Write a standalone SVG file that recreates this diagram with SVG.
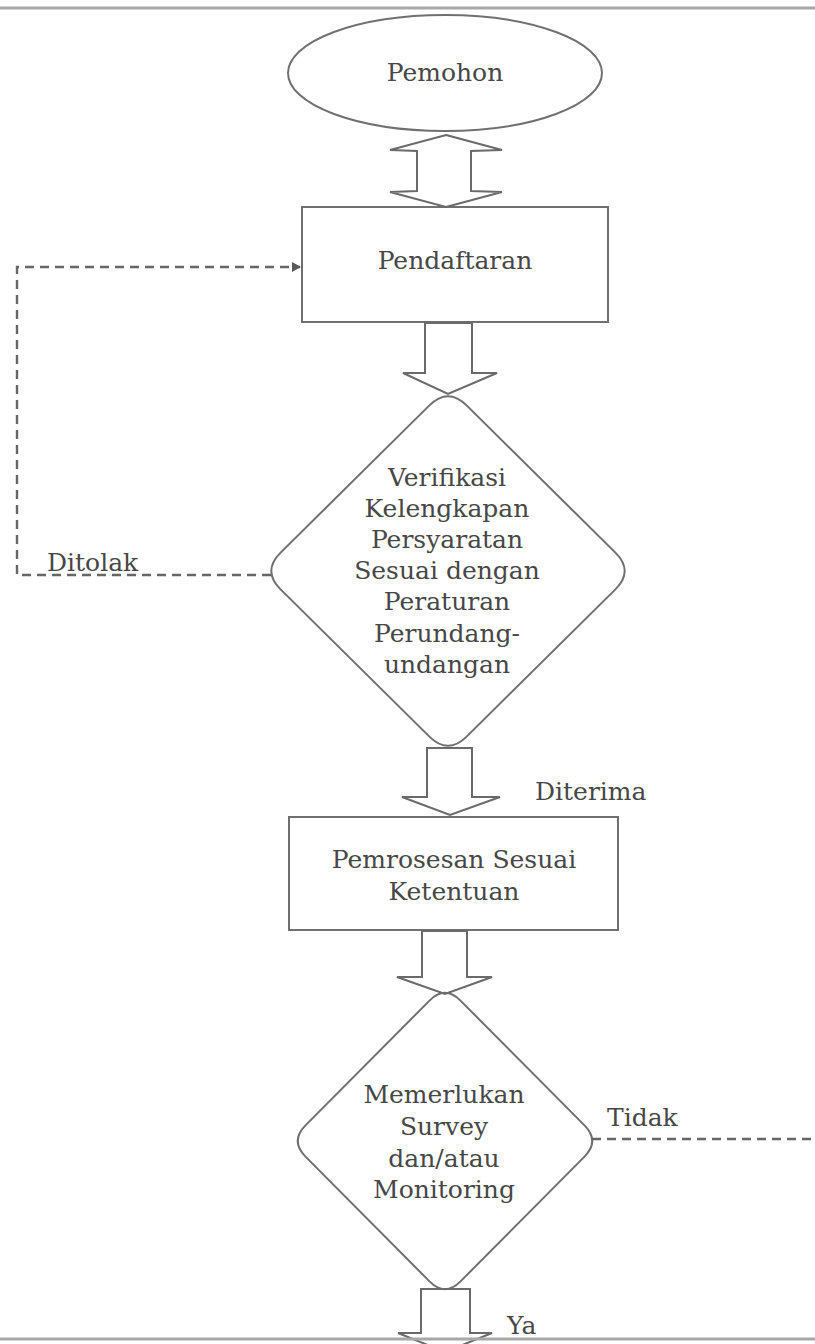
<svg xmlns="http://www.w3.org/2000/svg" width="815" height="1344" viewBox="0 0 815 1344">
<style>
.shape{fill:#fff;stroke:#707070;stroke-width:2}
.blk{fill:none;stroke:#6a6a6a;stroke-width:2;stroke-linejoin:miter}
.dash{fill:none;stroke:#666;stroke-width:2.4;stroke-dasharray:9 6}
.t{font-family:"DejaVu Serif","Liberation Serif",serif;font-size:25px;fill:#474747;text-anchor:middle}
.lbl{font-family:"DejaVu Serif","Liberation Serif",serif;font-size:25px;fill:#474747}
.border{stroke:#a8a8a8;stroke-width:3}
</style>
<defs>
<marker id="ah" markerWidth="10" markerHeight="10" refX="8" refY="5" orient="auto" markerUnits="userSpaceOnUse">
<path d="M0,0 L9,5 L0,10 Z" fill="#5a5a5a"/>
</marker>
</defs>
<rect x="0" y="0" width="815" height="1344" fill="#fff"/>

<g id="node-pemohon">
<ellipse class="shape" cx="445" cy="73" rx="157" ry="58"/>
<text class="t" x="445" y="81">Pemohon</text>
</g>

<g id="node-pendaftaran">
<rect class="shape" x="302" y="207" width="306" height="115"/>
<text class="t" x="455" y="269">Pendaftaran</text>
</g>

<g id="node-verifikasi">
<path class="shape" d="M466.6,405.4 L615.4,552.6 Q634,571 615.4,589.4 L466.6,736.6 Q448,755 429.4,736.6 L280.6,589.4 Q262,571 280.6,552.6 L429.4,405.4 Q448,387 466.6,405.4 Z"/>
<text class="t" x="447" y="486">Verifikasi</text>
<text class="t" x="447" y="517">Kelengkapan</text>
<text class="t" x="447" y="548">Persyaratan</text>
<text class="t" x="447" y="579">Sesuai dengan</text>
<text class="t" x="447" y="610">Peraturan</text>
<text class="t" x="447" y="642">Perundang-</text>
<text class="t" x="447" y="673">undangan</text>
</g>

<g id="node-pemrosesan">
<rect class="shape" x="289" y="817" width="329" height="113"/>
<text class="t" x="454" y="868">Pemrosesan Sesuai</text>
<text class="t" x="454" y="900">Ketentuan</text>
</g>

<g id="node-survey">
<path class="shape" d="M460.5,1000.6 L584.5,1125.4 Q600,1141 584.5,1156.6 L460.5,1281.4 Q445,1297 429.5,1281.4 L305.5,1156.6 Q290,1141 305.5,1125.4 L429.5,1000.6 Q445,985 460.5,1000.6 Z"/>
<text class="t" x="444" y="1103">Memerlukan</text>
<text class="t" x="444" y="1135">Survey</text>
<text class="t" x="444" y="1167">dan/atau</text>
<text class="t" x="444" y="1198">Monitoring</text>
</g>

<g id="connectors">
<path class="blk" d="M446,135 L502,150 L471,151 L471,191 L502,192 L446,207 L390,192 L417,191 L417,151 L390,150 Z"/>
<path class="blk" d="M425,323 L472,323 L472,373 L497,373 L448,394 L403,373 L425,373 Z"/>
<path class="blk" d="M427,748 L472,748 L472,797 L500,797 L450,815 L402,797 L427,797 Z"/>
<path class="blk" d="M422,931 L467,931 L467,977 L492,977 L445,994 L397,977 L422,977 Z"/>
<path class="blk" d="M421,1289 L470,1289 L470,1333 L492,1333 L445,1352 L398,1333 L421,1333 Z"/>
<path class="dash" d="M271,575 L17,575 L17,267 L300,267" marker-end="url(#ah)"/>
<path class="dash" d="M592,1139 L815,1139"/>
<text class="lbl" x="47" y="571">Ditolak</text>
<text class="lbl" x="535" y="800">Diterima</text>
<text class="lbl" x="607" y="1126">Tidak</text>
<text class="lbl" x="507" y="1334">Ya</text>
</g>

<line class="border" x1="0" y1="8" x2="815" y2="8"/>
<line class="border" x1="0" y1="1339" x2="815" y2="1339"/>
</svg>
